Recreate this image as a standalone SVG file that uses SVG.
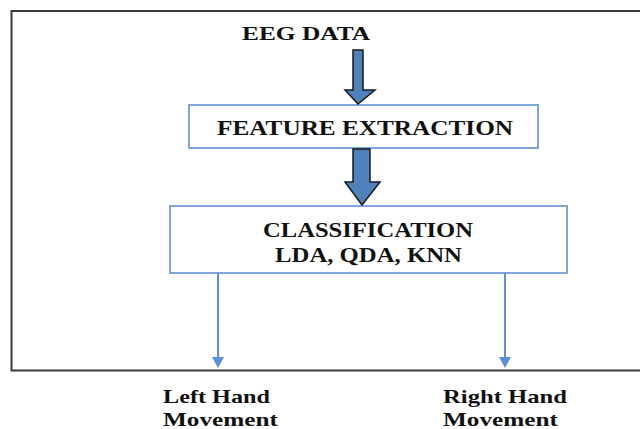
<svg xmlns="http://www.w3.org/2000/svg" width="640" height="429" viewBox="0 0 640 429">
<defs>
<style>
.t{font-family:"Liberation Serif","Times New Roman",serif;font-weight:bold;fill:#111;}
.box{fill:#fff;stroke:#7ea6dc;stroke-width:2;}
.big{fill:#4f81bd;stroke:#1a1a1a;stroke-width:1.5;stroke-linejoin:miter;}
.conn{stroke:#5b8fd6;stroke-width:2;fill:none;}
</style>
<marker id="ah" markerWidth="8" markerHeight="6" refX="7" refY="3" orient="auto" markerUnits="strokeWidth">
<path d="M0,0 L8,3 L0,6 Z" fill="#5b8fd6"/>
</marker>
</defs>
<rect width="640" height="429" fill="#fff"/>
<rect id="frame" x="11.5" y="11" width="640" height="359.5" fill="none" stroke="#3a3a3a" stroke-width="2"/>
<g id="eeg-data">
<text class="t" x="242" y="40" font-size="19" textLength="128" lengthAdjust="spacingAndGlyphs">EEG DATA</text>
</g>
<g id="feature-extraction">
<rect class="box" x="189" y="105" width="349" height="43"/>
<text class="t" x="217" y="135" font-size="20" textLength="296" lengthAdjust="spacingAndGlyphs">FEATURE EXTRACTION</text>
</g>
<g id="classification">
<rect class="box" x="170" y="206" width="397" height="67"/>
<text class="t" x="263" y="237" font-size="20" textLength="210" lengthAdjust="spacingAndGlyphs">CLASSIFICATION</text>
<text class="t" x="275" y="262" font-size="20" textLength="187" lengthAdjust="spacingAndGlyphs">LDA, QDA, KNN</text>
</g>
<g id="left-hand">
<text class="t" x="163" y="403" font-size="19" textLength="107" lengthAdjust="spacingAndGlyphs">Left Hand</text>
<text class="t" x="163" y="426" font-size="19" textLength="115" lengthAdjust="spacingAndGlyphs">Movement</text>
</g>
<g id="right-hand">
<text class="t" x="443" y="403" font-size="19" textLength="124" lengthAdjust="spacingAndGlyphs">Right Hand</text>
<text class="t" x="443" y="426" font-size="19" textLength="115" lengthAdjust="spacingAndGlyphs">Movement</text>
</g>
<g id="connectors">
<path class="big" d="M353,50 L363,50 L363,90 L375,90 L358,104 L345,90 L353,90 Z"/>
<path class="big" d="M353,149 L370,149 L370,182 L380,182 L362,205 L345,182 L353,182 Z"/>
<path d="M218,273 L218,358" class="conn"/>
<path d="M212,357 L224,357 L218,368 Z" fill="#5b8fd6"/>
<path d="M505,273 L505,358" class="conn"/>
<path d="M499,357 L511,357 L505,368 Z" fill="#5b8fd6"/>
</g>
</svg>
